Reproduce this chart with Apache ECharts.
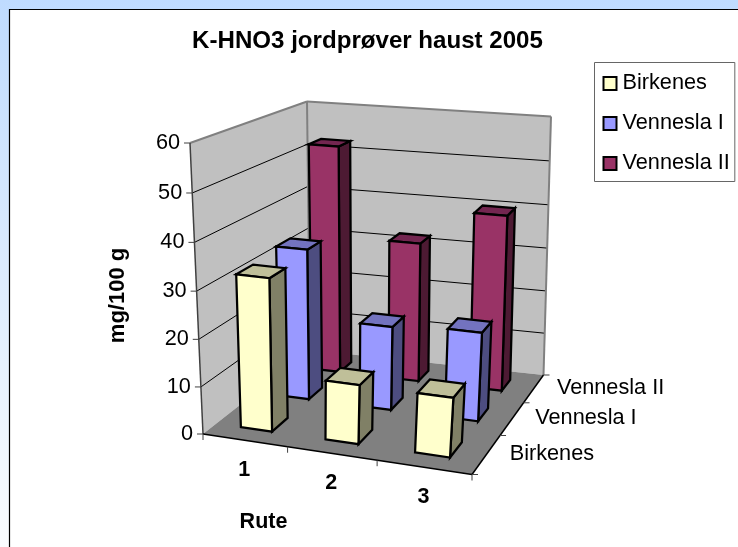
<!DOCTYPE html>
<html><head><meta charset="utf-8">
<style>html,body{margin:0;padding:0;background:#fff}#c{width:738px;height:547px}</style>
<script src="https://cdn.jsdelivr.net/npm/echarts@6/dist/echarts.min.js"></script>
</head><body><div id="c"></div>
<script>
const titleText = 'K-HNO3 jordprøver haust 2005';
const valueTitle = 'mg/100 g';
const ruteTitle = 'Rute';
const rutes = ['1', '2', '3'];
const depthNames = ['Birkenes', 'Vennesla I', 'Vennesla II'];
const valueTicks = [0, 10, 20, 30, 40, 50, 60];
const birkenes = [32.5, 12.5, 12.5];
const venneslaI = [33.5, 18.5, 19.5];
const venneslaII = [52.5, 32, 40];

const FONT = '"Liberation Sans", Arial, sans-serif';
const palette = [
  { front: '#FFFFCC', side: '#808066', top: '#BFBF99' },
  { front: '#9999FF', side: '#4D4D80', top: '#7373BF' },
  { front: '#993366', side: '#4D1A33', top: '#732650' }
];
// view of the 3D box: [tx, tz, ty] corners in screen pixels
const corners = {
  '000': [203, 434], '100': [472, 474.5], '010': [310, 350], '110': [543.5, 375],
  '001': [190, 143], '101': [494, 173], '011': [307, 101.5], '111': [551, 116.5]
};
const warpX = t => t / (1 + 0.09 * (1 - t));
const warpZ = t => t * 1.29 / (1 + 0.29 * t);
const warpY = t => t / (1 + 0.037 * (1 - t));
function project(tx, tz, ty) {
  const a = warpX(tx), b = warpZ(tz), c = warpY(ty);
  const out = [0, 0];
  for (const i of [0, 1]) for (const j of [0, 1]) for (const k of [0, 1]) {
    const w = (i ? a : 1 - a) * (j ? b : 1 - b) * (k ? c : 1 - c);
    const p = corners['' + i + j + k];
    out[0] += w * p[0]; out[1] += w * p[1];
  }
  return out;
}
const poly = (pts, fill, stroke, lw) => ({
  type: 'polygon', shape: { points: pts },
  style: { fill: fill, stroke: stroke || null, lineWidth: lw || 0, lineJoin: 'miter' }
});
const line = (a, b, stroke, lw) => ({
  type: 'line', shape: { x1: a[0], y1: a[1], x2: b[0], y2: b[1] },
  style: { stroke: stroke, lineWidth: lw || 1, fill: null }
});
const text = (s, x, y, size, bold, align, rot) => ({
  type: 'text', x: x, y: y, rotation: rot || 0,
  style: { text: s, x: 0, y: 0, fill: '#000', font: (bold ? 'bold ' : '') + size + 'px ' + FONT, align: align || 'center', verticalAlign: 'middle' }
});

function barRenderer(depthIndex) {
  return function (params, api) {
    const cs = params.coordSys;
    const i = api.value(0), v = api.value(1);
    const p = api.coord([i, v]);
    const band = api.size([1, 0])[0] / cs.width;
    const cx = (p[0] - cs.x) / cs.width;
    const ty = 1 - (p[1] - cs.y) / cs.height;
    const x0 = cx - 0.2 * band, x1 = cx + 0.175 * band;
    const z0 = (depthIndex + 0.3) / 3, z1 = (depthIndex + 0.7) / 3;
    const c = palette[depthIndex];
    return {
      type: 'group', children: [
        poly([project(x1, z0, 0), project(x1, z1, 0), project(x1, z1, ty), project(x1, z0, ty)], c.side, '#000', 2.25),
        poly([project(x0, z0, ty), project(x1, z0, ty), project(x1, z1, ty), project(x0, z1, ty)], c.top, '#000', 2.25),
        poly([project(x0, z0, 0), project(x1, z0, 0), project(x1, z0, ty), project(x0, z0, ty)], c.front, '#000', 2.25)
      ]
    };
  };
}

function frameRenderer(params, api) {
  const cs = params.coordSys;
  const ch = [];
  // sheet
  ch.push({ type: 'rect', shape: { x: 9.5, y: 9.5, width: 740, height: 550 }, style: { fill: '#fff', stroke: '#000', lineWidth: 1.2 } });
  // walls and floor
  ch.push(poly([project(0, 0, 0), project(0, 1, 0), project(0, 1, 1), project(0, 0, 1)], '#C0C0C0', null, 0));
  ch.push(poly([project(0, 1, 0), project(1, 1, 0), project(1, 1, 1), project(0, 1, 1)], '#C0C0C0', null, 0));
  ch.push(poly([project(0, 0, 0), project(1, 0, 0), project(1, 1, 0), project(0, 1, 0)], '#808080', null, 0));
  // gridlines from the value scale
  valueTicks.forEach(function (t) {
    if (t === 0 || t === 60) return;
    const ty = 1 - (api.coord([0, t])[1] - cs.y) / cs.height;
    ch.push(line(project(0, 0, ty), project(0, 1, ty), '#000', 1));
    ch.push(line(project(0, 1, ty), project(1, 1, ty), '#000', 1));
  });
  // wall outlines
  const g = '#808080';
  ch.push(line(project(0, 0, 1), project(0, 1, 1), g, 2));
  ch.push(line(project(0, 1, 1), project(1, 1, 1), g, 2));
  ch.push(line(project(1, 1, 1), project(1, 1, 0), g, 2));
  ch.push(line(project(0, 1, 1), project(0, 1, 0), g, 2));
  // axes
  ch.push(line(project(0, 0, 0), project(0, 0, 1), '#404040', 1.5));
  ch.push(line(project(0, 0, 0), project(1, 0, 0), '#000', 1.5));
  ch.push(line(project(1, 0, 0), project(1, 1, 0), '#000', 1.5));
  // value ticks + labels
  valueTicks.forEach(function (t) {
    const ty = 1 - (api.coord([0, t])[1] - cs.y) / cs.height;
    const p = project(0, 0, ty);
    ch.push(line([p[0] - 6, p[1]], p, '#404040', 1));
    ch.push(text(String(t), p[0] - 10, p[1], 21.7, false, 'right'));
  });
  // rute ticks + labels
  for (let i = 0; i <= rutes.length; i++) {
    const p = project(i / rutes.length, 0, 0);
    ch.push(line(p, [p[0], p[1] + 6], '#404040', 1));
  }
  rutes.forEach(function (r, i) {
    const p = project((i + 0.5) / rutes.length, 0, 0);
    ch.push(text(r, p[0] - 0.5, p[1] + 29.5, 21.5, true));
  });
  // depth ticks + labels
  for (let i = 0; i <= depthNames.length; i++) {
    const p = project(1, i / depthNames.length, 0);
    ch.push(line(p, [p[0] + 6, p[1]], '#404040', 1));
  }
  depthNames.forEach(function (d, i) {
    const p = project(1, (i + 0.5) / depthNames.length, 0);
    ch.push(text(d, p[0] + 23, p[1], 21.7, false, 'left'));
  });
  ch.push(text(valueTitle, 118, 295.5, 22, true, 'center', Math.PI / 2));
  ch.push(text(ruteTitle, 263.5, 522, 21.5, true));
  return { type: 'group', children: ch };
}

const seriesData = [birkenes, venneslaI, venneslaII];
const barSeries = [2, 1, 0].map(function (d) {
  return {
    type: 'custom', name: depthNames[d], z: 5 + (2 - d),
    coordinateSystem: 'cartesian2d', renderItem: barRenderer(d),
    itemStyle: { color: palette[d].front, borderColor: '#000', borderWidth: 2 },
    encode: { x: 0, y: 1 },
    data: seriesData[d].map(function (v, i) { return [i, v]; })
  };
});

const chart = echarts.init(document.getElementById('c'), null, { renderer: 'canvas' });
chart.setOption({
  animation: false,
  backgroundColor: { type: 'linear', x: 0, y: 0, x2: 0, y2: 1, colorStops: [{ offset: 0, color: '#BFDBFF' }, { offset: 1, color: '#FAFCFF' }] },
  title: { text: titleText, left: 367.5, top: 29, textAlign: 'center', padding: 0, textStyle: { fontFamily: FONT, fontSize: 24.1, fontWeight: 'bold', color: '#000' }, z: 20 },
  legend: {
    left: 594.5, top: 62.5, orient: 'vertical', padding: [10, 5, 7, 8],
    itemWidth: 13, itemHeight: 13, itemGap: 18,
    icon: 'rect', backgroundColor: '#fff', borderColor: '#666', borderWidth: 1, borderRadius: 0,
    data: depthNames, selectedMode: false, z: 20,
    textStyle: { fontFamily: FONT, fontSize: 21.7, color: '#000', padding: [0, 0, 0, 1] }
  },
  grid: { left: 0, right: 0, top: 0, bottom: 0, containLabel: false },
  xAxis: { type: 'category', data: rutes, show: false },
  yAxis: { type: 'value', min: 0, max: 60, interval: 10, show: false },
  series: [{
    type: 'custom', name: 'frame', z: 1, silent: true, coordinateSystem: 'cartesian2d',
    renderItem: frameRenderer, encode: { x: 0, y: 1 }, data: [[0, 0]]
  }].concat(barSeries)
});
</script></body></html>
